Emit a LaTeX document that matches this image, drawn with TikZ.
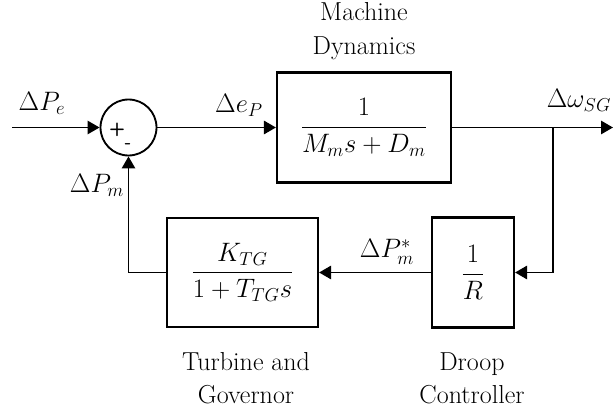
\RequirePackage{fix-cm}
\documentclass[tikz,border=0pt]{standalone}
\usepackage{amsmath}
\usetikzlibrary{arrows.meta,positioning,calc}

\begin{document}
\fontsize{20}{25}\selectfont
\begin{tikzpicture}[x=0.75pt, y=-0.75pt, >={Triangle[length=9pt,width=10pt]},
    line width=1.4pt,
    block/.style={draw, line width=1.6pt, rectangle, inner sep=0pt},
    sign/.style={font=\sffamily\bfseries\fontsize{14}{14}\selectfont, inner sep=0pt},
    title/.style={font=\fontsize{19.5}{25}\selectfont, align=center, inner sep=0pt}]

    \useasboundingbox (0,0) rectangle (614,410);

    % Summing junction
    \node[circle, draw, minimum size=42pt, inner sep=0pt] (sum) at (128.5,127.5) {};
    \node[sign] (plus) at (117,130) {+};
    \node[sign] (minus) at (128,146) {-};

    % Blocks
    \node[block, minimum width=130.5pt, minimum height=82.5pt] (machine) at (364,127.5)
        {$\dfrac{1}{M_m s+D_m}$};
    \node[block, minimum width=113.25pt, minimum height=81.75pt] (turbine) at (242.5,272.5)
        {$\dfrac{K_{TG}}{1+T_{TG}s}$};
    \node[block, minimum width=61.5pt, minimum height=82.5pt] (droop) at (473,272.5)
        {$\dfrac{1}{R}$};

    % Block titles
    \node[title] (machinetitle) at (364,31) {Machine\\Dynamics};
    \node[title] (turbinetitle) at (246,378) {Turbine and\\Governor};
    \node[title] (drooptitle) at (472,378) {Droop\\Controller};

    % Signal points
    \coordinate (in) at (12,127.5);
    \coordinate (out) at (613,127.5);
    \coordinate (branch) at (553,127.5);

    % Connectors
    \draw[->] (in) -- (sum.west);
    \draw[->] (sum.east) -- (machine.west);
    \draw[->] (machine.east) -- (out);
    \draw[->] (branch) |- (droop.east);
    \draw[->] (droop.west) -- (turbine.east);
    \draw[->] (turbine.west) -| (sum.south);

    % Signal labels
    \node (dPe) at (42,103) {$\Delta P_e$};
    \node (dep) at (239,105) {$\Delta e_P$};
    \node (dw) at (579,100) {$\Delta\omega_{SG}$};
    \node (dPm) at (97,185) {$\Delta P_m$};
    \node (dPmstar) at (387,252) {$\Delta P_m^*$};

\end{tikzpicture}
\end{document}
